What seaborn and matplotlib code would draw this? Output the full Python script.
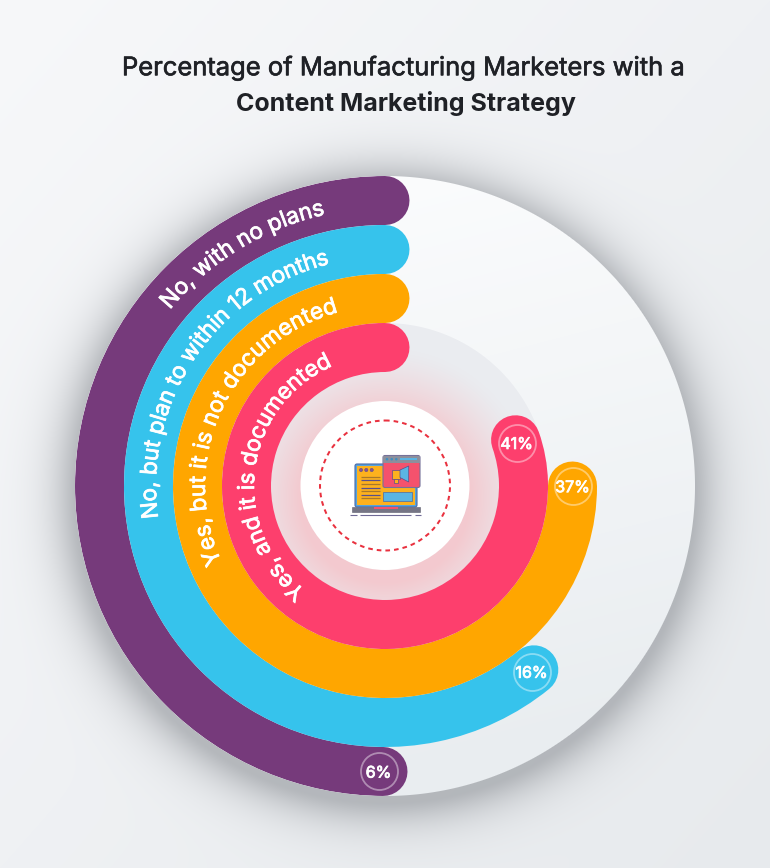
import numpy as np
import pandas as pd
import matplotlib
matplotlib.use("Agg")
import matplotlib.pyplot as plt
import matplotlib.patheffects as pe
from matplotlib.font_manager import FontProperties
from matplotlib.patches import Circle, Rectangle, Polygon, FancyBboxPatch
from matplotlib.textpath import text_to_path
import seaborn as sns

# ---------- data ----------
categories = ["No, with no plans", "No, but plan to within 12 months",
              "Yes, but it is not documented", "Yes, and it is documented"]
percent_labels = ["6%", "16%", "37%", "41%"]
sweep_degrees = [179.6, 219.0, 270.0, 289.5]       # drawn sweep of each arc
label_degrees = [178.7, 218.3, 270.0, 288.2]
band_radius = [285.5, 236.5, 187.5, 138.5]
colors = ["#763a7b", "#36c3ec", "#ffa600", "#fd3f6d"]
text_spans = [(-50.7, -12.4), (-98.0, -14.0), (-115.0, -15.0), (-143.0, -23.6)]
title_line1 = "Percentage of Manufacturing Marketers with a"
title_line2 = "Content Marketing Strategy"

W, H, DPI = 770, 868, 100
CX, CY, R = 385.0, 486.0, 310.0
FONT = "Inter"

sns.set_theme(style="white")
plt.rcParams["font.family"] = [FONT, "DejaVu Sans"]

fig = plt.figure(figsize=(W / DPI, H / DPI), dpi=DPI)

# ---------- painted backdrop: page, shadow, disc, inner glow ----------
bg = fig.add_axes([0, 0, 1, 1])
yy, xx = np.mgrid[0:H, 0:W] + 0.5
d = np.hypot(xx - CX, yy - CY)


def mix(base, col, a):
    return base * (1 - a[..., None]) + np.array(col, float) * a[..., None]


t = np.clip((xx / W + yy / H) / 2, 0, 1)[..., None]
img = np.array([247, 248, 250.0]) * (1 - t) + np.array([231, 234, 237.0]) * t
ds = np.hypot(xx - CX, yy - (CY + 7)) - R
img = mix(img, (125, 129, 135), 0.5 * np.exp(-(np.clip(ds, 0, None) / 26.0) ** 1.3) * (ds > -30))
t2 = np.clip((yy - 176) / 620 + (xx - CX) / 2400, 0, 1)[..., None]
disc = np.array([251, 252, 253.0]) * (1 - t2) + np.array([233, 237, 240.0]) * t2
a = np.clip(R + 0.5 - d, 0, 1)
img = img * (1 - a[..., None]) + disc * a[..., None]
img = mix(img, (234, 236, 240), np.clip(163.5 - d, 0, 1))
dg = np.hypot(xx - CX, yy - (CY + 12))
img = mix(img, (246, 192, 198), 0.78 * np.clip((150 - dg) / 65, 0, 1) ** 1.3 * (d < 163))
bg.imshow(img.astype(np.uint8), extent=(0, W, H, 0), interpolation="nearest", aspect="auto")
bg.set_xlim(0, W)
bg.set_ylim(H, 0)
bg.set_axis_off()

bg.add_patch(Circle((CX, 485.5), 84.5, fc="white", ec="none"))
bg.add_patch(Circle((CX, 485.5), 65, fc="none", ec="#e9313f", lw=1.45, ls=(0, (2.3, 2.0))))

# ---------- centre icon ----------
ink = "#5a4f8c"
bg.add_patch(FancyBboxPatch((355, 464), 62, 43, boxstyle="round,pad=0,rounding_size=2",
                            fc="#56a3dc", ec="#4a6aa8", lw=0.8))
bg.add_patch(Rectangle((357, 466), 58, 38.5, fc="#fdb11e", ec="none"))
for x in (361, 366.3, 371.7):
    bg.add_patch(Circle((x, 470), 1.6, fc="#8c4f8f", ec=ink, lw=0.4))
for y, c in zip((476.5, 480, 484, 487.5, 491, 494.5, 498),
                ("#a9782a", ink, "#a9782a", ink, "#a9782a", ink, "#a9782a")):
    bg.plot([361, 380], [y, y], color=c, lw=0.9, solid_capstyle="butt")
bg.add_patch(Rectangle((383, 491.5), 29, 9, fc="#5ab5e3", ec="#4a6aa8", lw=0.5))
bg.add_patch(FancyBboxPatch((383, 455.5), 37, 32, boxstyle="round,pad=0,rounding_size=2",
                            fc="#f4526d", ec="#75719a", lw=0.8))
bg.add_patch(Rectangle((383, 455.5), 37, 7.5, fc="#8d8f9c", ec="none"))
for x in (387, 391.7, 396.3):
    bg.add_patch(Circle((x, 459.2), 1.3, fc="#3f8fc0", ec="none"))
bg.add_patch(Rectangle((400, 457.9), 16.5, 2.4, fc="#5ab5e3", ec="none"))
bg.add_patch(Rectangle((391.5, 470), 8.5, 8.5, fc="#fdb11e", ec=ink, lw=0.5))
bg.add_patch(Rectangle((394, 478.5), 3.5, 4.5, fc="#fdb11e", ec=ink, lw=0.5))
bg.add_patch(Polygon([(400, 470), (408.7, 466), (408.7, 482), (400, 477.5)],
                     fc="#5ab5e3", ec=ink, lw=0.5))
bg.add_patch(Rectangle((351.7, 506.7), 68.3, 5, fc="#757585", ec="#5f5f70", lw=0.4))
bg.add_patch(Rectangle((373.5, 506.7), 24, 2.6, fc="#f4526d", ec="none"))
for x0, x1 in ((350, 356.5), (360, 410.5), (415, 420.5)):
    bg.plot([x0, x1], [515, 515], color="#6f6a96", lw=0.8, solid_capstyle="butt")

# ---------- the arcs on polar axes ----------
ax = fig.add_axes([(CX - R) / W, 1 - (CY + R) / H, 2 * R / W, 2 * R / H], projection="polar")
ax.patch.set_alpha(0)
ax.set_theta_zero_location("N")
ax.set_theta_direction(1)

rows = []
for name, sweep, rad in zip(categories, sweep_degrees, band_radius):
    rows.append({"category": name, "theta": 0.0, "radius": rad})
    rows.append({"category": name, "theta": np.radians(sweep), "radius": rad})
frame = pd.DataFrame(rows)
sns.lineplot(data=frame, x="theta", y="radius", hue="category", hue_order=categories,
             palette=colors, sort=False, estimator=None, legend=False, ax=ax,
             lw=49 * 72 / DPI, solid_capstyle="round")
for line in ax.lines:
    line.get_path()._interpolation_steps = 180
    line._transformed_path = None
    line._invalidx = True
ax.set_ylim(0, R)
ax.set_xlim(0, 2 * np.pi)
ax.set_axis_off()

# ---------- curved category text ----------
prop = FontProperties(family=FONT, size=16.3)
medium = [pe.withStroke(linewidth=0.55, foreground="white")]


def advance(s):
    return text_to_path.get_text_width_height_descent(s, prop, False)[0] * DPI / 72


for name, rad, (a0, a1) in zip(categories, band_radius, text_spans):
    total = advance(name)
    base = rad - 7.5
    span = a1 - a0
    for i, ch in enumerate(name):
        if ch == " ":
            continue
        mid = (advance(name[: i + 1]) - advance(ch) / 2) / total
        cw = a0 + span * mid
        ax.text(np.radians(-cw), base, ch, fontproperties=prop, color="white",
                rotation=-cw, rotation_mode="anchor", ha="center", va="baseline",
                path_effects=medium)

# ---------- percent badges ----------
for lab, ang, rad in zip(percent_labels, label_degrees, band_radius):
    th = np.radians(ang)
    ax.plot([th], [rad], marker="o", ms=37 * 72 / DPI, mfc="none",
            mec=(1, 1, 1, 0.42), mew=1.3, ls="none", zorder=5)
    ax.annotate(lab, xy=(th, rad), xytext=(0, -1.2), textcoords="offset points",
                color="white", fontsize=11.5, ha="center", va="center", zorder=6,
                family=FONT, path_effects=[pe.withStroke(linewidth=0.6, foreground="white")])

# ---------- title ----------
fig.text(403 / W, 1 - 68.5 / H, title_line1, ha="center", va="center", fontsize=18.4,
         color="#1f2126", family=FONT,
         path_effects=[pe.withStroke(linewidth=0.45, foreground="#1f2126")])
fig.text(406 / W, 1 - 103.5 / H, title_line2, ha="center", va="center", fontsize=18.0,
         fontweight="bold", color="#1f2126", family=FONT)

fig.savefig("out.png", dpi=DPI)
